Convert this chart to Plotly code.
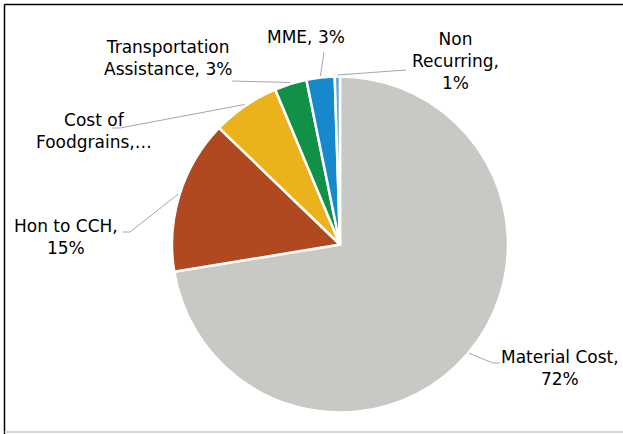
import math
import plotly.graph_objects as go

# ---- data ----
labels = ["Material Cost", "Hon to CCH", "Cost of Foodgrains",
          "Transportation Assistance", "MME", "Non Recurring"]
values = [72.4, 14.8, 6.5, 3.1, 2.7, 0.5]
label_text = ["Material Cost,<br>72%", "Hon to CCH,<br>15%", "Cost of<br>Foodgrains,…",
              "Transportation<br>Assistance, 3%", "MME, 3%", "Non<br>Recurring,<br>1%"]
colors = ["#c8c8c4", "#b04820", "#ebb21c", "#119148", "#1689cc", "#5fa8dc"]

# ---- layout constants (pixels) ----
W, H = 623, 434
CX, CY, R = 340, 244, 168
label_pos = [(560, 368), (66, 237), (94, 131), (168, 58), (306, 37), (455, 61)]
elbows = [[(493, 363), (500, 363)], [(130, 232), (123, 232)], [(120, 128), (112, 128)],
          [(232, 81)], [(324, 52)], [(406, 70)]]


def px(x):
    return x / W


def py(y):
    return 1 - y / H


fig = go.Figure(go.Pie(
    labels=labels, values=values, sort=False, direction="clockwise", rotation=0,
    marker=dict(colors=colors, line=dict(color="white", width=2.5)),
    textinfo="none", hoverinfo="label+percent", showlegend=False,
    domain=dict(x=[px(CX - R), px(CX + R)], y=[py(CY + R + 1), py(CY - R)]),
))

total = sum(values)
cum = 0
shapes = []
annotations = []
for v, txt, (lx, ly), elb in zip(values, label_text, label_pos, elbows):
    mid = (cum + v / 2) / total * 2 * math.pi
    cum += v
    ex = CX + (R + 1) * math.sin(mid)
    ey = CY - (R + 1) * math.cos(mid)
    pts = [(ex, ey)] + elb
    path = "M " + " L ".join(f"{px(a)},{py(b)}" for a, b in pts)
    shapes.append(dict(type="path", path=path, xref="paper", yref="paper",
                       line=dict(color="#a6a6a6", width=1)))
    annotations.append(dict(x=px(lx), y=py(ly), xref="paper", yref="paper",
                            text=txt, showarrow=False, xanchor="center", yanchor="middle",
                            align="center",
                            font=dict(family="DejaVu Sans", size=17, color="#000000")))

# frame
shapes += [
    dict(type="line", xref="paper", yref="paper", x0=px(4.5), x1=px(623), y0=py(4.5), y1=py(4.5),
         line=dict(color="#000000", width=1.5)),
    dict(type="line", xref="paper", yref="paper", x0=px(4.5), x1=px(4.5), y0=py(4.5), y1=py(434),
         line=dict(color="#000000", width=1.5)),
    dict(type="line", xref="paper", yref="paper", x0=px(4.5), x1=px(623), y0=py(432), y1=py(432),
         line=dict(color="#c8c8c8", width=1.5)),
]

fig.update_layout(
    width=W, height=H, margin=dict(l=0, r=0, t=0, b=0),
    paper_bgcolor="white", plot_bgcolor="white",
    shapes=shapes, annotations=annotations,
)

fig.write_html("out.html", config={"displayModeBar": False},
               post_script="document.body.style.margin='0';document.body.style.overflow='hidden';")
